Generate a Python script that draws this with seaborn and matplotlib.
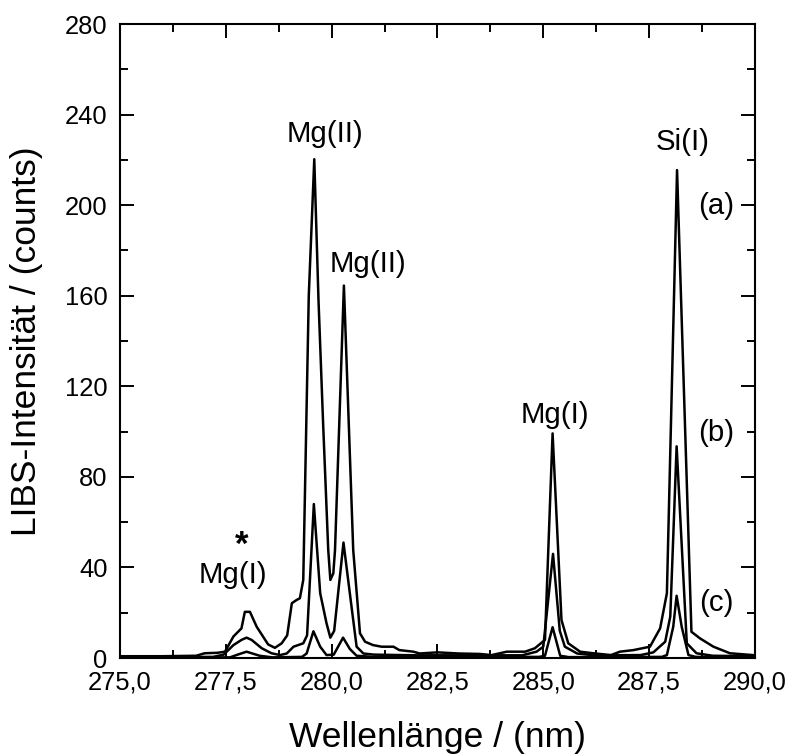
import matplotlib
matplotlib.use("Agg")
import matplotlib.pyplot as plt
from matplotlib.ticker import MultipleLocator, FuncFormatter
import pandas as pd
import seaborn as sns

sns.set_style("ticks")
plt.rcParams["font.family"] = ["Liberation Sans", "DejaVu Sans"]
plt.rcParams.update({
    "text.color": "black",
    "axes.labelcolor": "black",
    "axes.edgecolor": "black",
    "xtick.color": "black",
    "ytick.color": "black",
})

# spectrum (a) - highest intensity
wl_a = [275.0, 276.0, 276.8, 277.0, 277.3, 277.48, 277.68, 277.87, 277.95, 278.07,
        278.23, 278.5, 278.66, 278.82, 278.95, 279.06, 279.17, 279.25, 279.33, 279.46,
        279.59, 279.69, 279.8, 279.92, 279.97, 280.04, 280.08, 280.29, 280.51, 280.67,
        280.79, 280.98, 281.18, 281.46, 281.6, 281.93, 282.08, 282.5, 283.0, 283.5,
        283.78, 284.14, 284.57, 284.8, 285.04, 285.22, 285.43, 285.59, 285.87, 286.18,
        286.6, 286.81, 287.13, 287.52, 287.76, 287.92, 288.16, 288.5, 288.7, 289.02,
        289.41, 289.95, 290.0]
int_a = [0.8, 0.8, 1.0, 2.1, 2.3, 2.8, 9.5, 13.1, 20.4, 20.4,
         13.8, 6.0, 4.5, 6.5, 10.0, 24.2, 25.6, 26.4, 34.5, 160.0,
         220.3, 158.0, 103.0, 47.7, 34.5, 37.4, 47.7, 164.5, 47.7, 10.9,
         7.2, 5.7, 5.0, 5.0, 3.5, 2.8, 2.0, 2.5, 2.0, 1.8,
         1.3, 2.8, 2.8, 4.3, 8.0, 99.2, 16.8, 6.5, 2.8, 2.1,
         1.3, 2.8, 3.5, 5.0, 13.1, 28.6, 215.5, 11.6, 8.7, 5.0,
         2.1, 1.3, 1.2]

# spectrum (b)
wl_b = [275.0, 277.2, 277.45, 277.68, 277.87, 277.99, 278.11, 278.35, 278.58, 278.78,
        278.94, 279.1, 279.33, 279.42, 279.58, 279.73, 279.88, 279.97, 280.06, 280.28,
        280.43, 280.59, 280.75, 281.0, 282.0, 284.5, 284.84, 285.0, 285.23, 285.39,
        285.51, 285.8, 286.2, 287.3, 287.6, 287.88, 288.0, 288.15, 288.39, 288.62,
        289.0, 290.0]
int_b = [0.3, 0.5, 1.5, 5.7, 8.0, 9.0, 8.0, 4.3, 2.1, 1.3,
         2.0, 5.0, 6.5, 10.0, 68.0, 28.6, 15.3, 9.0, 12.0, 51.0,
         28.6, 5.0, 2.0, 1.5, 1.2, 1.2, 2.8, 5.0, 46.0, 12.0,
         5.0, 2.0, 1.2, 1.3, 2.5, 7.2, 18.3, 93.5, 6.5, 2.1,
         1.0, 0.8]

# spectrum (c) - lowest intensity
wl_c = [275.0, 277.6, 277.75, 277.99, 278.3, 278.6, 279.3, 279.41, 279.57, 279.73,
        279.88, 280.05, 280.27, 280.43, 280.59, 281.0, 284.9, 285.04, 285.22, 285.4,
        285.6, 287.8, 287.92, 288.07, 288.15, 288.27, 288.43, 288.6, 290.0]
int_c = [0.2, 0.3, 1.3, 2.8, 1.0, 0.3, 0.5, 2.0, 11.8, 5.0,
         1.3, 1.5, 9.0, 4.0, 1.0, 0.5, 0.5, 1.0, 13.6, 1.0,
         0.4, 0.5, 1.3, 13.8, 27.5, 13.8, 1.3, 0.5, 0.3]

line_labels = ["Mg(II)", "Mg(II)", "Mg(I)", "Si(I)", "Mg(I)"]
line_x = [279.84, 280.85, 285.28, 288.29, 277.67]
line_y = [228.0, 170.6, 103.7, 224.4, 33.0]

curve_tags = ["(a)", "(b)", "(c)"]
tag_y = [199.6, 99.4, 24.3]

spectra = pd.concat([
    pd.DataFrame({"wl": wl_a, "counts": int_a, "spec": "a"}),
    pd.DataFrame({"wl": wl_b, "counts": int_b, "spec": "b"}),
    pd.DataFrame({"wl": wl_c, "counts": int_c, "spec": "c"}),
])

fig = plt.figure(figsize=(7.94, 7.56), dpi=100)
ax = fig.add_axes([0.1511, 0.1296, 0.7997, 0.8386])

sns.lineplot(data=spectra, x="wl", y="counts", units="spec", estimator=None,
             sort=False, color="black", linewidth=1.8, ax=ax, legend=False)

ax.set_xlim(275, 290)
ax.set_ylim(0, 280)
ax.xaxis.set_major_locator(MultipleLocator(2.5))
ax.xaxis.set_minor_locator(MultipleLocator(1.25))
ax.yaxis.set_major_locator(MultipleLocator(40))
ax.yaxis.set_minor_locator(MultipleLocator(20))
ax.xaxis.set_major_formatter(FuncFormatter(lambda v, p: f"{v:.1f}".replace(".", ",")))
ax.tick_params(which="both", direction="in", top=True, right=True, width=1.4,
               labelsize=18.4, pad=9)
ax.tick_params(which="major", length=10)
ax.tick_params(which="minor", length=6)
for s in ax.spines.values():
    s.set_linewidth(1.5)

ax.set_xlabel("Wellenlänge / (nm)", fontsize=25.5)
ax.set_ylabel("LIBS-Intensität / (counts)", fontsize=25.5)
ax.xaxis.label.set_va("center")
ax.yaxis.label.set_va("center")
ax.xaxis.set_label_coords(0.5, (658 - 737) / 634)
ax.yaxis.set_label_coords((27 - 120) / 635, 0.5)

for lab, x, y in zip(line_labels, line_x, line_y):
    ax.text(x, y, lab, ha="center", va="baseline", fontsize=21.2)
# asterisk over the Mg(I) 277.9 nm line
ax.text(277.87, 45.5, "*", ha="center", va="baseline", fontsize=25, fontweight="bold")

for tag, y in zip(curve_tags, tag_y):
    ax.text(289.09, y, tag, ha="center", va="center", fontsize=21.2)

fig.savefig("out.png", dpi=100)
